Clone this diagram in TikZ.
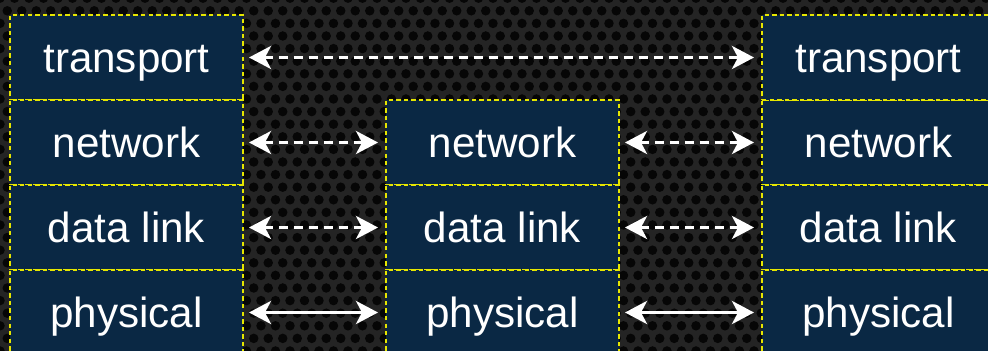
\documentclass[tikz,border=0pt]{standalone}
\usepackage{fontspec}
\setmainfont{Liberation Sans}
\usetikzlibrary{arrows.meta,positioning}
\definecolor{meshgray}{RGB}{36,36,36}
\definecolor{meshhole}{RGB}{6,6,6}
\definecolor{layerblue}{RGB}{10,40,68}
\definecolor{edgeyellow}{RGB}{230,230,0}
\tikzset{
  layer/.style={draw=edgeyellow,dash pattern=on 2.5pt off 1.8pt,line width=1.1pt,
                fill=layerblue,text=white,font=\fontsize{24}{28}\selectfont,
                minimum width=4.66cm,minimum height=1.7cm,inner sep=0pt,
                outer sep=0pt,text height=17.6pt,text depth=0pt},
  peer/.style={{Stealth[length=0.44cm,width=0.46cm,inset=0.12cm]}-{Stealth[length=0.44cm,width=0.46cm,inset=0.12cm]},
               white,line width=0.07cm,dash pattern=on 0.18cm off 0.12cm,
               shorten <=0.12cm,shorten >=0.16cm},
  wire/.style={peer,solid},
}
\begin{document}
\begin{tikzpicture}
\clip (0,0) rectangle (19.76,7.02);
% perforated metal backdrop
\fill[meshgray] (0,0) rectangle (19.76,7.02);
\foreach \r in {0,...,28}{
  \foreach \c in {0,...,68}{
    \fill[meshhole] ({0.29*\c+0.145*mod(\r,2)},{0.252*\r}) circle (0.095);
  }
}
% end host A
\node[layer] (lt) at (2.53,5.87) {transport};
\node[layer,below=0pt of lt] (ln) {network};
\node[layer,below=0pt of ln] (ld) {data link};
\node[layer,below=0pt of ld] (lp) {physical};
% router
\node[layer,right=2.86cm of ln] (mn) {network};
\node[layer,below=0pt of mn] (md) {data link};
\node[layer,below=0pt of md] (mp) {physical};
% end host B
\node[layer,right=2.86cm of mn] (rn) {network};
\node[layer,above=0pt of rn] (rt) {transport};
\node[layer,below=0pt of rn] (rd) {data link};
\node[layer,below=0pt of rd] (rp) {physical};
% peer links
\draw[peer] (lt.east) -- (rt.west);
\draw[peer] (ln.east) -- (mn.west);
\draw[peer] (mn.east) -- (rn.west);
\draw[peer] (ld.east) -- (md.west);
\draw[peer] (md.east) -- (rd.west);
\draw[wire] (lp.east) -- (mp.west);
\draw[wire] (mp.east) -- (rp.west);
\end{tikzpicture}
\end{document}
